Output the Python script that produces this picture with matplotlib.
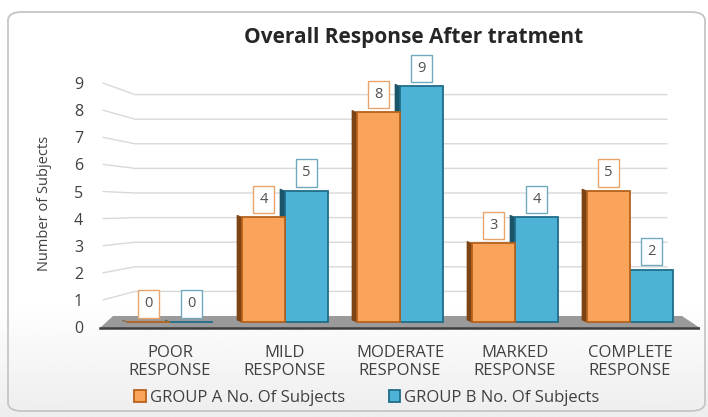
import matplotlib
matplotlib.use('Agg')
import matplotlib.pyplot as plt
import numpy as np
from matplotlib.patches import FancyBboxPatch, Polygon

plt.rcParams['font.family'] = ['Open Sans', 'DejaVu Sans']

# ── Data ────────────────────────────────────────────────────────────────────
categories = ['POOR\nRESPONSE', 'MILD\nRESPONSE', 'MODERATE\nRESPONSE',
              'MARKED\nRESPONSE', 'COMPLETE\nRESPONSE']
group_a = [0, 4, 8, 3, 5]
group_b = [0, 5, 9, 4, 2]
y_ticks = [0, 1, 2, 3, 4, 5, 6, 7, 8, 9]
series_names = ['GROUP A No. Of Subjects', 'GROUP B No. Of Subjects']

# ── Style ───────────────────────────────────────────────────────────────────
OR_FACE, OR_EDGE, OR_SIDE, OR_BOX = '#F9A35B', '#B5621C', '#7E4313', '#E9A46C'
BL_FACE, BL_EDGE, BL_SIDE, BL_BOX = '#4DB2D6', '#1F6D8A', '#1B5468', '#6FA9BD'
TXT = '#404040'
GRID = '#d9d9d9'

W, H = 708, 417
fig = plt.figure(figsize=(W / 100, H / 100), dpi=100)
fig.patch.set_facecolor('white')

# soft grey fade towards the bottom of the chart area
bg = fig.add_axes([0, 0, 1, 1], zorder=-5)
grad = np.linspace(0, 1, 256)[:, None]
grad = np.clip((grad - 0.72) / 0.28, 0, 1)
bg.imshow(1 - 0.07 * grad, cmap='gray', vmin=0, vmax=1, aspect='auto',
          extent=[0, 1, 0, 1], origin='upper')
bg.set_xlim(0, 1); bg.set_ylim(0, 1); bg.axis('off')
frame = FancyBboxPatch((8 / W, 1 - 411 / H), 697 / W, 399 / H,
                       boxstyle='round,pad=0,rounding_size=0.02',
                       transform=fig.transFigure, fill=False,
                       edgecolor='#c6c6c6', lw=1.3)
bg.add_patch(frame)

# plot area in pixels: x 90..700, y 60..335
ax = fig.add_axes([90 / W, 1 - 335 / H, 610 / W, 275 / H])
ax.set_facecolor('none')
PX_X0, PX_DX = 170, 115       # category centre pixel spacing
PX_Y0, PX_DY = 322, 26.2      # value 0 and per-unit pixel size
ax.set_xlim((90 - PX_X0) / PX_DX, (700 - PX_X0) / PX_DX)
ax.set_ylim((PX_Y0 - 335) / PX_DY, (PX_Y0 - 60) / PX_DY)

def px(xp, yp):
    return (xp - PX_X0) / PX_DX, (PX_Y0 - yp) / PX_DY

# back-wall gridlines with their slanted left-wall part
for k in y_ticks[1:]:
    gy = 316 - 24.6 * k
    ly = 327 - 27.1 * k
    (x0, y0), (x1, y1), (x2, y2) = px(103, ly), px(135, gy), px(667, gy)
    ax.plot([x0, x1, x2], [y0, y1, y2], color=GRID, lw=1.0, zorder=1,
            solid_capstyle='round')

# floor slab
floor = Polygon([px(100, 328), px(700, 328), px(682, 316), px(113, 316)],
                closed=True, facecolor='#9a9a9a', edgecolor='none', zorder=2)
ax.add_patch(floor)
ax.plot(*zip(px(100, 328), px(700, 328)), color='#3d3d3d', lw=1.8, zorder=2)

x = np.arange(len(categories))
bw = 43 / PX_DX
side_dx, side_dy = 5 / PX_DX, 2 / PX_DY

def draw_bars(xs, vals, face, edge, side, box, z):
    for xc, v in zip(xs, vals):
        left = xc - bw / 2
        sp = Polygon([(left, 0), (left, v), (left - side_dx, v + side_dy),
                      (left - side_dx, side_dy)], closed=True,
                     facecolor=side, edgecolor=side, lw=0.5, zorder=z)
        ax.add_patch(sp)
    bars = ax.bar(xs, vals, width=bw, color=face, edgecolor=edge,
                  linewidth=1.3, zorder=z + 0.5)
    for xc, v in zip(xs, vals):
        ax.annotate(f'{v}', (xc, v), xytext=(0, 13),
                    textcoords='offset points', ha='center', va='center',
                    fontsize=10.5, color='#505050', zorder=10,
                    bbox=dict(boxstyle='square,pad=0.42', fc='white',
                              ec=box, lw=1.0))
    return bars

bars_b = draw_bars(x + bw / 2, group_b, BL_FACE, BL_EDGE, BL_SIDE, BL_BOX, 3)
bars_a = draw_bars(x - bw / 2, group_a, OR_FACE, OR_EDGE, OR_SIDE, OR_BOX, 5)

# axes cosmetics
for s in ax.spines.values():
    s.set_visible(False)
ax.set_xticks(x)
ax.set_xticklabels(categories, fontsize=12, color=TXT, linespacing=1.2)
ax.tick_params(axis='x', length=0, pad=7)
tick_pos = [(PX_Y0 - (327 - 27.1 * k)) / PX_DY for k in y_ticks]
ax.set_yticks(tick_pos)
ax.set_yticklabels([str(k) for k in y_ticks], fontsize=11.5, color=TXT)
ax.tick_params(axis='y', length=0, pad=5)

fig.text(414 / W, 1 - 38 / H, 'Overall Response After tratment',
         ha='center', va='center', fontsize=15, fontweight='bold',
         color='#262626')
fig.text(45 / W, 1 - 203 / H, 'Number of Subjects', rotation=90,
         ha='center', va='center', fontsize=10.5, color=TXT)

fig.legend([bars_a, bars_b], series_names, loc='center', ncol=2,
           bbox_to_anchor=(367 / W, 1 - 398 / H), frameon=False,
           fontsize=12, labelcolor=TXT, handlelength=0.7, handleheight=0.7,
           handletextpad=0.25, columnspacing=2.6)

fig.savefig('out.png', dpi=100)
